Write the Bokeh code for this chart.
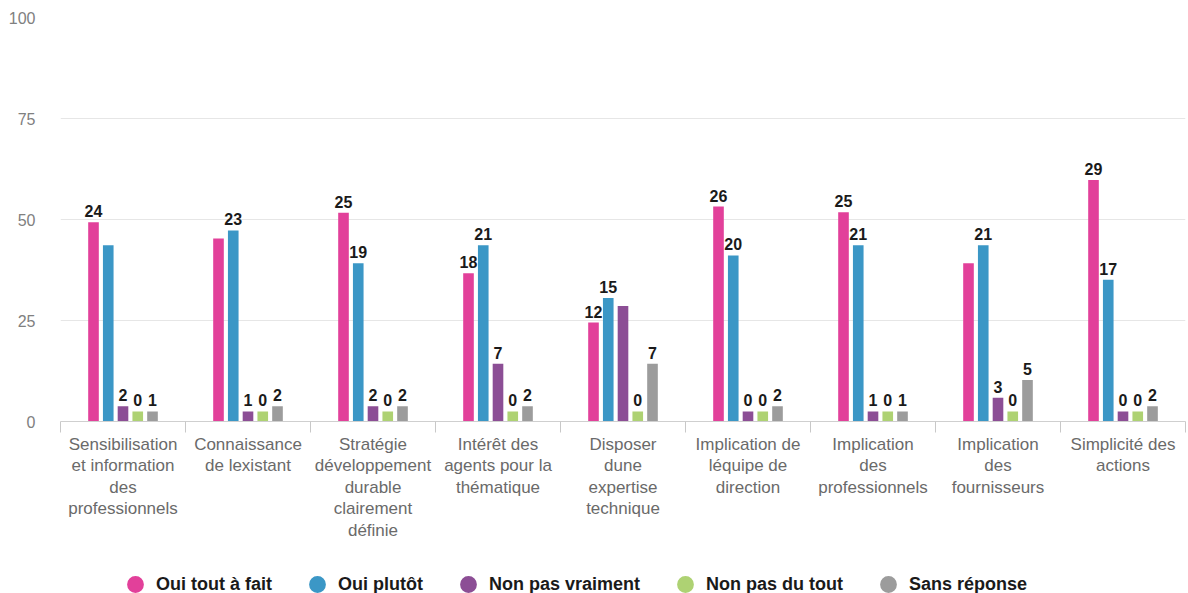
from bokeh.plotting import figure
from bokeh.layouts import column
from bokeh.models import (ColumnDataSource, FixedTicker, Legend, LegendItem, Range1d)
from bokeh.core.properties import value
from bokeh.embed import file_html
from bokeh.resources import INLINE

categories = [
    "Sensibilisation\net information\ndes\nprofessionnels",
    "Connaissance\nde lexistant",
    "Stratégie\ndéveloppement\ndurable\nclairement\ndéfinie",
    "Intérêt des\nagents pour la\nthématique",
    "Disposer\ndune\nexpertise\ntechnique",
    "Implication de\nléquipe de\ndirection",
    "Implication\ndes\nprofessionnels",
    "Implication\ndes\nfournisseurs",
    "Simplicité des\nactions",
]

series_names = ["Oui tout à fait", "Oui plutôt", "Non pas vraiment", "Non pas du tout", "Sans réponse"]
series_colors = ["#E2409A", "#3B97C6", "#8C4E95", "#AED273", "#9C9C9C"]

# bar heights (scale 0-100)
oui_tout = [49.3, 45.3, 51.7, 36.7, 24.5, 53.2, 51.8, 39.2, 59.8]
oui_plutot = [43.6, 47.3, 39.2, 43.6, 30.6, 41.1, 43.6, 43.6, 35.1]
non_vraiment = [3.8, 2.5, 3.8, 14.3, 28.6, 2.5, 2.5, 5.9, 2.5]
non_du_tout = [2.5, 2.5, 2.5, 2.5, 2.5, 2.5, 2.5, 2.5, 2.5]
sans_reponse = [2.5, 3.8, 3.8, 3.8, 14.3, 3.8, 2.5, 10.3, 3.8]

# data labels (counts) shown above the bars; "" = label not shown
oui_tout_lbl = ["24", "", "25", "18", "12", "26", "25", "", "29"]
oui_plutot_lbl = ["", "23", "19", "21", "15", "20", "21", "21", "17"]
non_vraiment_lbl = ["2", "1", "2", "7", "", "0", "1", "3", "0"]
non_du_tout_lbl = ["0", "0", "0", "0", "0", "0", "0", "0", "0"]
sans_reponse_lbl = ["1", "2", "2", "2", "7", "2", "1", "5", "2"]

y_ticks = [0, 25, 50, 75, 100]

series_values = [oui_tout, oui_plutot, non_vraiment, non_du_tout, sans_reponse]
series_labels = [oui_tout_lbl, oui_plutot_lbl, non_vraiment_lbl, non_du_tout_lbl, sans_reponse_lbl]

FONT = "Liberation Sans"
n = len(categories)

MAIN_H = 553
LEG_H = 593 - MAIN_H

p = figure(width=1188, height=MAIN_H, output_backend="svg", toolbar_location=None,
           x_range=Range1d(0, n), y_range=Range1d(0, 100),
           min_border_left=60, min_border_right=3, min_border_top=17,
           min_border_bottom=MAIN_H - 421)
p.outline_line_color = None
p.background_fill_color = "white"
p.border_fill_color = "white"

pitch = 0.118
width = 0.085
centers = [i + 0.5 for i in range(n)]
for k, (vals, lbls, col) in enumerate(zip(series_values, series_labels, series_colors)):
    xs = [c + (k - 2) * pitch for c in centers]
    src = ColumnDataSource(dict(x=xs, top=vals, lbl=lbls))
    p.vbar(x="x", top="top", bottom=0, width=width, source=src, color=col, line_color=None)
    p.text(x="x", y="top", text="lbl", source=src, text_align="center",
           text_baseline="bottom", y_offset=-5, text_font=value(FONT),
           text_font_size="16px", text_font_style="bold", text_color="#1a1a1a")

# axes
p.yaxis.ticker = FixedTicker(ticks=y_ticks)
p.yaxis.axis_line_color = None
p.yaxis.major_tick_line_color = None
p.yaxis.minor_tick_line_color = None
p.yaxis.major_label_standoff = 19
p.yaxis.major_label_text_font = FONT
p.yaxis.major_label_text_font_size = "16px"
p.yaxis.major_label_text_color = "#808080"

p.xaxis.ticker = FixedTicker(ticks=centers, minor_ticks=list(range(n + 1)))
p.xaxis.major_label_overrides = {c: lab for c, lab in zip(centers, categories)}
p.xaxis.major_tick_in = 0
p.xaxis.major_tick_out = 0
p.xaxis.minor_tick_in = 0
p.xaxis.minor_tick_out = 11
p.xaxis.minor_tick_line_color = "#c8c8c8"
p.xaxis.axis_line_color = "#cfcfcf"
p.xaxis.major_label_standoff = 2
p.xaxis.major_label_text_font = FONT
p.xaxis.major_label_text_font_size = "17px"
p.xaxis.major_label_text_line_height = 1.14
p.xaxis.major_label_text_color = "#6a6a6a"

p.xgrid.grid_line_color = None
p.ygrid.ticker = FixedTicker(ticks=y_ticks[1:])
p.ygrid.grid_line_color = "#e6e6e6"

# legend strip below the chart (its frame is aligned with the chart frame by the column layout)
lg = figure(width=1188, height=LEG_H, output_backend="svg", toolbar_location=None,
            x_range=Range1d(0, 1), y_range=Range1d(0, 1),
            x_axis_location=None, y_axis_location=None,
            min_border_left=0, min_border_right=0, min_border_top=0, min_border_bottom=0)
lg.outline_line_color = None
lg.xgrid.grid_line_color = None
lg.ygrid.grid_line_color = None
renderers = []
for col in series_colors:
    # size-0 marker: nothing drawn in the strip, the legend draws its own circle
    renderers.append(lg.scatter(x=[0], y=[0], size=0, marker="circle", color=col, line_color=None))

legend = Legend(items=[LegendItem(label=nm, renderers=[r]) for nm, r in zip(series_names, renderers)],
                orientation="horizontal", location=(54, -12),
                glyph_width=42, glyph_height=42, label_standoff=0, spacing=24,
                padding=0, margin=0, border_line_color=None, background_fill_alpha=0,
                label_text_font=FONT, label_text_font_size="18px", label_text_font_style="bold",
                label_text_color="#1a1a1a")
lg.add_layout(legend, "center")

layout = column(p, lg, spacing=0)
open("out.html", "w").write(file_html(layout, INLINE))
